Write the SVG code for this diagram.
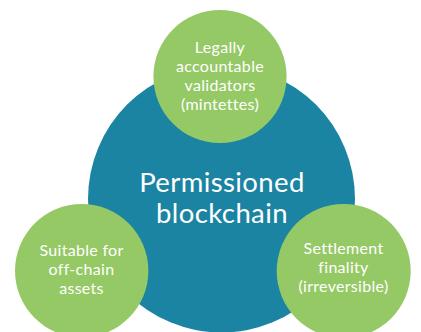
<svg xmlns="http://www.w3.org/2000/svg" width="421" height="332" viewBox="0 0 421 332">
<style>
.main{fill:#1b84a3}
.sat{fill:#95c965}
.t{fill:#ffffff;font-family:Lato,"Open Sans",sans-serif;text-anchor:middle}
.s{font-size:16px;letter-spacing:0.3px}
.b{font-size:27.5px;letter-spacing:0.4px}
</style>
<rect width="421" height="332" fill="#ffffff"/>
<g id="connectors"></g>
<g id="center">
<circle class="main" cx="221.5" cy="199" r="133.5"/>
<text class="t b" x="222" y="192">Permissioned</text>
<text class="t b" x="222" y="223">blockchain</text>
</g>
<g id="top">
<circle class="sat" cx="220" cy="76.5" r="66.6"/>
<text class="t s" x="220" y="53">Legally</text>
<text class="t s" x="220" y="72">accountable</text>
<text class="t s" x="220" y="91">validators</text>
<text class="t s" x="220" y="110">(mintettes)</text>
</g>
<g id="left">
<circle class="sat" cx="81.7" cy="270.7" r="66.7"/>
<text class="t s" x="81.5" y="256">Suitable for</text>
<text class="t s" x="81.5" y="275">off-chain</text>
<text class="t s" x="81.5" y="294">assets</text>
</g>
<g id="right">
<circle class="sat" cx="343.7" cy="271" r="67"/>
<text class="t s" x="343.5" y="254">Settlement</text>
<text class="t s" x="343.5" y="273">finality</text>
<text class="t s" x="343.5" y="292">(irreversible)</text>
</g>
</svg>
